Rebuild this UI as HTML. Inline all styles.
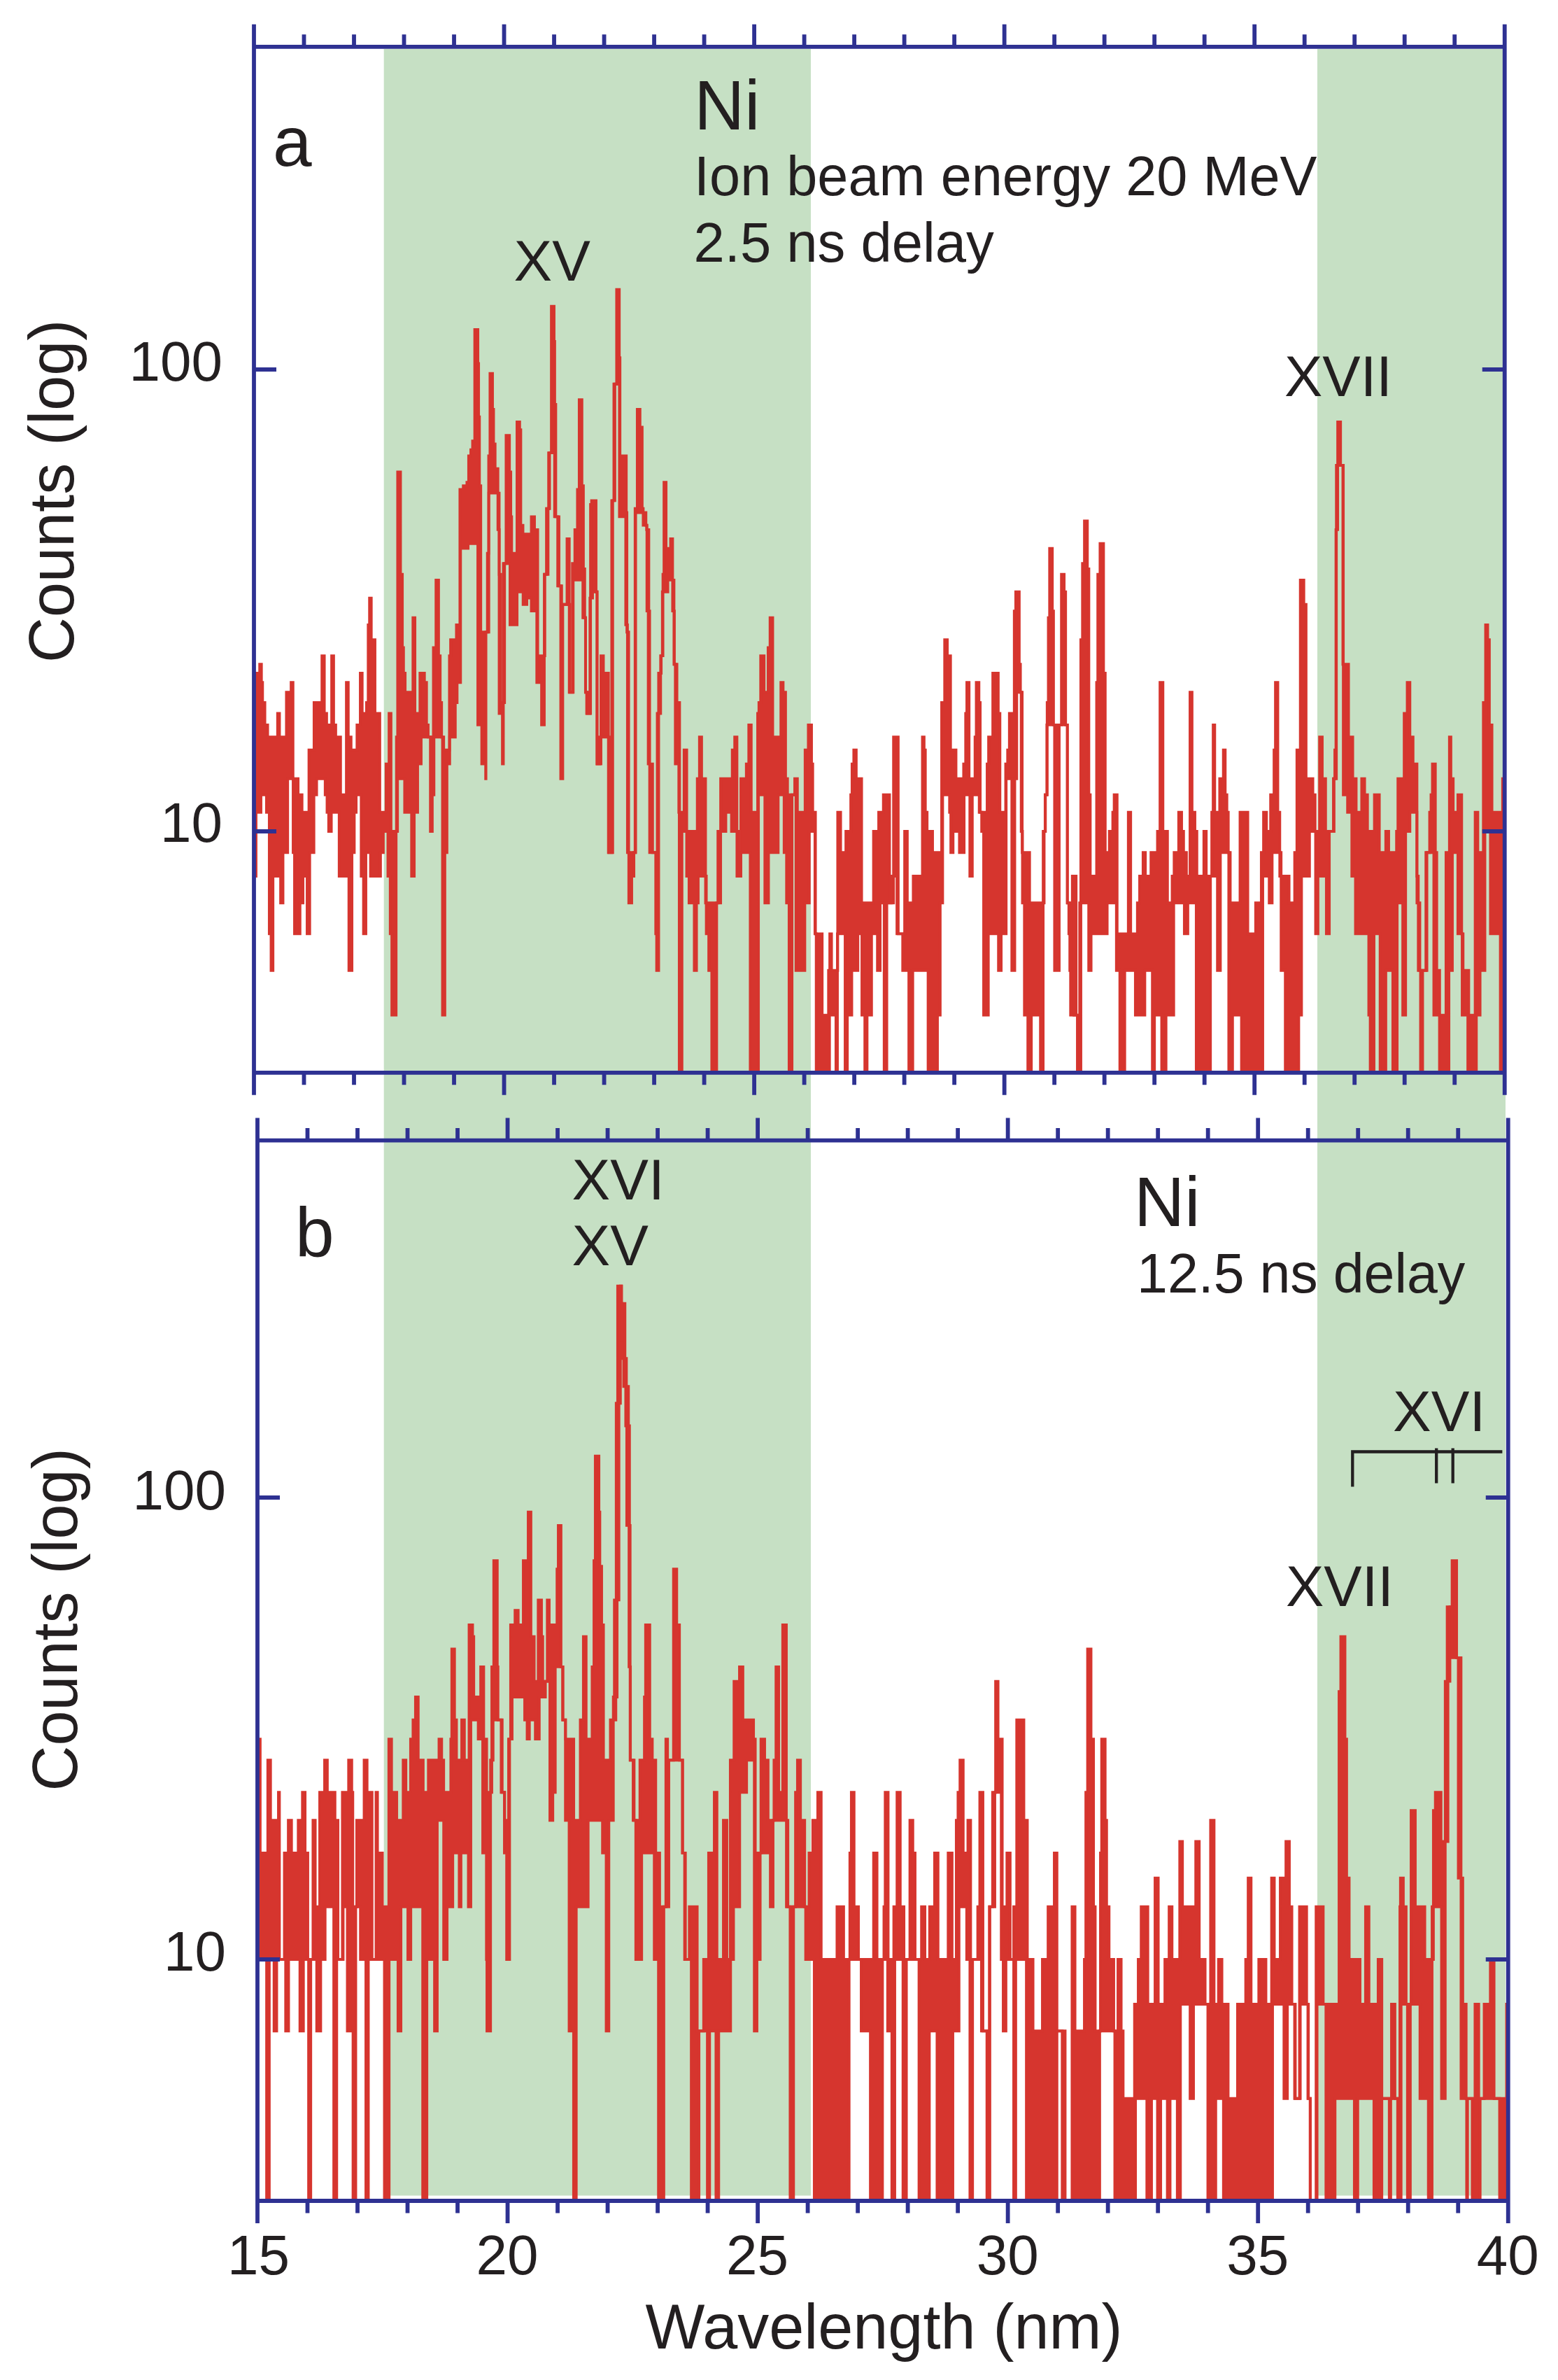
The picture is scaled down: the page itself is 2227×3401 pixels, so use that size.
<!DOCTYPE html>
<html><head><meta charset="utf-8"><title>Ni spectra</title>
<style>html,body{margin:0;padding:0;background:#fff}body{width:2227px;height:3401px;overflow:hidden}</style></head>
<body>
<svg width="2227" height="3401" viewBox="0 0 2227 3401" style="display:block">
<rect x="0" y="0" width="2227" height="3401" fill="#ffffff"/>
<rect x="548.7" y="70" width="610.3" height="3067.5" fill="#c6e0c4"/>
<rect x="1883" y="70" width="269" height="3067.5" fill="#c6e0c4"/>
<clipPath id="clipa"><rect x="363.0" y="66.8" width="1787.75" height="1466.0"/></clipPath>
<g clip-path="url(#clipa)"><path d="M363.0 962.0H371.2V949.3H373.7V975.3H375.3V1004.0H378.6V1035.9H382.6V1053.3H396.8V1019.5H399.5V1053.3H409.4V989.3H416.1V975.3H418.8V1112.8H426.1V1135.7H431.7V1160.7H441.6V1071.8H448.9V1004.0H460.2V937.1H463.6V1019.5H466.9V1035.9H474.1V937.1H476.9V1035.9H479.9V1053.3H486.8V1135.7H495.1V975.3H497.8V1053.3H501.8V1071.8H510.3V1035.9H515.0V962.0H517.7V1019.5H523.9V1004.0H526.3V892.9H528.2V854.6H530.7V914.1H536.0V1019.5H542.9V1160.7H551.8V1091.6H556.1V1019.5H558.9V1188.0H566.7V1053.3H568.4V674.4H572.5V820.8H575.1V925.4H576.8V962.0H579.1V989.3H590.3V882.8H593.1V1019.5H600.3V962.0H606.7V975.3H609.7V1035.9H612.0V1053.3H619.5V925.4H623.2V828.9H626.9V937.1H629.2V1004.0H631.2V1053.3H634.2V1071.8H642.4V937.1H644.1V914.1H652.4V892.9H657.4V699.4H662.2V694.2H667.4V689.1H669.9V651.5H673.0V642.8H675.5V630.2H678.6V471.0H683.1V519.5H684.1V595.6H685.3V694.2H687.2V903.3H696.7V790.6H698.5V651.5H700.4V533.8H704.0V584.9H705.5V634.4H707.7V669.7H711.7V756.9H713.6V820.8H715.8V1004.0H721.2V805.3H723.4V622.2H728.2V674.4H730.1V738.4H731.3V790.6H739.0V602.9H742.8V614.3H744.4V750.6H747.5V763.3H759.5V738.4H764.0V756.9H768.6V937.1H778.8V820.8H783.4V726.7H785.6V647.1H788.1V437.8H792.0V487.9H792.9V578.0H794.4V738.4H797.2V837.2H802.8V863.7H810.5V769.9H813.7V989.3H818.2V805.3H821.7V756.9H825.4V699.4H827.9V571.2H831.8V694.2H833.9V813.0H835.8V882.8H837.0V989.3H838.6V1019.5H844.1V721.0H845.6V715.4H852.0V845.8H853.5V1091.6H859.0V937.1H862.5V962.0H869.7V1218.2H875.8V715.4H878.9V548.8H881.4V413.7H885.2V511.3H886.2V651.5H895.2V732.5H896.1V903.3H898.6V1218.2H907.8V726.7H910.9V584.9H914.8V610.5H917.9V726.7H919.4V750.6H924.7V873.1H926.6V1091.6H932.8V1218.2H939.5V1019.5H941.4V962.0H945.1V937.1H947.6V820.8H949.1V689.1H952.1V783.6H958.5V769.9H961.4V873.1H963.9V949.3H967.6V1004.0H971.4V1160.7H977.8V1071.8H981.6V1188.0H996.7V1112.8H999.8V1053.3H1002.9V1112.8H1008.5V1290.2H1030.1V1112.8H1046.7V1071.8H1050.2V1053.3H1053.4V1252.0H1059.0V1112.8H1066.8V1091.6H1070.3V1035.9H1073.8V1160.7H1083.0V1019.5H1084.8V1004.0H1087.3V937.1H1092.2V989.3H1097.9V925.4H1100.7V882.8H1104.5V1053.3H1116.2V975.3H1119.4V989.3H1122.9V1112.8H1125.7V1135.7H1136.0V1112.8H1139.8V1160.7H1150.8V1071.8H1155.4V1035.9H1160.0V1091.6H1161.7V1160.7H1165.6V1334.4H1175.2V1450.6H1184.3V1386.7H1186.1V1334.4H1188.6V1386.7H1197.4V1160.7H1201.6V1218.2H1209.1V1188.0H1216.1V1135.7H1217.9V1091.6H1220.4V1071.8H1223.9V1112.8H1231.6V1290.2H1248.6V1188.0H1256.0V1160.7H1262.7V1135.7H1271.5V1290.2H1277.2V1053.3H1283.9V1334.4H1293.1V1188.0H1296.9V1290.2H1305.4V1252.0H1318.5V1053.3H1320.9V1071.8H1322.7V1160.7H1325.2V1188.0H1333.0V1218.2H1346.0V1004.0H1350.3V914.1H1354.1V937.1H1358.7V1071.8H1366.5V1112.8H1377.4V1091.6H1380.3V1019.5H1382.0V975.3H1385.2V1112.8H1393.7V1053.3H1395.5V975.3H1399.3V1004.0H1401.1V1160.7H1411.0V1091.6H1413.1V1053.3H1419.1V962.0H1426.9V1019.5H1429.3V1160.7H1437.5V1091.6H1440.3V1071.8H1442.8V1019.5H1449.8V873.1H1451.9V845.8H1456.9V949.3H1458.6V989.3H1461.1V1218.2H1471.7V1290.2H1492.5V1188.0H1494.3V1135.7H1496.8V1004.0H1498.5V882.8H1500.3V783.6H1504.2V873.1H1505.9V1035.9H1517.2V820.8H1521.1V845.8H1523.2V1035.9H1525.7V1290.2H1532.8V1252.0H1535.2V1450.6H1537.8V1252.0H1538.2V1450.6H1543.3V1290.2H1544.9V914.1H1547.3V805.3H1550.1V744.4H1554.3V813.0H1556.4V1135.7H1558.4V1252.0H1567.5V975.3H1569.2V820.8H1572.4V776.7H1577.4V962.0H1579.8V1218.2H1585.7V1188.0H1590.6V1160.7H1592.6V1135.7H1596.8V1334.4H1612.8V1160.7H1616.2V1334.4H1625.8V1290.2H1629.0V1252.0H1633.9V1218.2H1637.2V1252.0H1645.2V1218.2H1654.5V1188.0H1658.1V975.3H1662.3V1188.0H1668.8V1290.2H1675.5V1252.0H1678.3V1218.2H1684.8V1160.7H1689.0V1188.0H1691.8V1218.2H1695.9V1252.0H1701.0V989.3H1703.9V1160.7H1708.0V1188.0H1710.8V1252.0H1720.8V1188.0H1724.2V1252.0H1732.1V1160.7H1734.1V1035.9H1736.3V1160.7H1743.4V1112.8H1748.7V1071.8H1751.3V1135.7H1753.7V1160.7H1755.7V1218.2H1758.5V1290.2H1772.5V1160.7H1783.6V1334.4H1794.8V1290.2H1802.9V1218.2H1806.1V1160.7H1810.3V1188.0H1816.2V1135.7H1821.1V1071.8H1823.1V975.3H1826.5V1160.7H1829.3V1252.0H1842.6V1290.2H1850.6V1218.2H1853.8V1071.8H1858.7V828.9H1863.7V863.7H1866.9V1112.8H1876.6V1135.7H1879.8V1188.0H1886.2V1053.3H1890.0V1112.8H1894.8V1188.0H1906.0V1112.8H1908.0V1071.8H1909.6V756.9H1912.1V602.9H1916.2V665.0H1919.5V949.3H1927.6V1053.3H1933.6V1112.8H1938.5V1160.7H1946.4V1112.8H1950.6V1135.7H1954.7V1188.0H1964.6V1135.7H1971.6V1218.2H1980.8V1188.0H1985.0V1218.2H1996.2V1188.0H1998.2V1112.8H2007.1V1019.5H2011.5V975.3H2015.3V1053.3H2019.8V1091.6H2025.4V1290.2H2029.5V1386.7H2038.2V1218.2H2043.5V1160.7H2045.5V1135.7H2047.5V1091.6H2051.7V1218.2H2053.7V1386.7H2057.8V1450.6H2066.9V1218.2H2071.8V1053.3H2073.9V1112.8H2077.2V1160.7H2083.9V1135.7H2089.3V1334.4H2091.3V1386.7H2099.4V1450.6H2108.6V1160.7H2112.4V1218.2H2120.3V1004.0H2123.5V892.9H2126.5V914.1H2128.9V1035.9H2132.6V1160.7H2147.8V1112.8H2150.8V1546.8H2144.6V1334.4H2130.4V1188.0H2122.5V1386.7H2115.6V1450.6H2110.3V1546.8H2098.1V1450.6H2090.0V1334.4H2083.9V1218.2H2076.0V1386.7H2071.1V1546.8H2057.6V1450.6H2049.5V1218.2H2039.6V1386.7H2033.5V1546.8H2030.5V1386.7H2027.3V1252.0H2025.3V1160.7H2015.3V1188.0H2009.2V1450.6H2005.1V1290.2H1997.1V1546.8H1990.9V1386.7H1980.9V1546.8H1972.7V1334.4H1964.0V1546.8H1958.6V1450.6H1956.5V1334.4H1937.5V1252.0H1932.3V1160.7H1926.2V1135.7H1920.1V665.0H1910.2V1112.8H1906.9V1188.0H1900.1V1334.4H1895.9V1252.0H1883.9V1334.4H1880.5V1188.0H1871.8V1252.0H1860.4V1450.6H1856.4V1546.8H1837.2V1386.7H1831.2V1218.2H1818.4V1290.2H1814.2V1252.0H1805.0V1546.8H1774.6V1450.6H1761.8V1546.8H1756.4V1218.2H1744.4V1386.7H1740.2V1252.0H1730.2V1546.8H1709.9V1290.2H1697.9V1334.4H1692.9V1290.2H1677.7V1450.6H1666.7V1546.8H1660.5V1450.6H1650.2V1546.8H1647.2V1386.7H1636.4V1450.6H1622.9V1386.7H1607.7V1546.8H1600.7V1386.7H1595.8V1290.2H1582.6V1334.4H1559.6V1386.7H1556.2V1290.2H1545.0V1546.8H1540.0V1450.6H1530.3V1386.7H1529.2V1334.4H1527.8V1290.2H1525.7V1035.9H1514.0V1386.7H1507.4V1035.9H1496.4V1135.7H1493.9V1188.0H1491.1V1546.8H1487.2V1450.6H1474.2V1546.8H1469.2V1450.6H1464.3V1290.2H1461.5V1188.0H1459.7V989.3H1453.3V1112.8H1450.5V1386.7H1446.3V1112.8H1438.2V1334.4H1431.1V1386.7H1427.2V1334.4H1412.7V1450.6H1406.0V1188.0H1403.2V1160.7H1399.7V1135.7H1389.8V1252.0H1386.3V1135.7H1378.1V1218.2H1371.4V1188.0H1362.3V1218.2H1359.1V1160.7H1357.3V1135.7H1347.4V1290.2H1343.9V1450.6H1340.0V1546.8H1326.6V1386.7H1304.7V1546.8H1299.1V1386.7H1290.3V1334.4H1282.1V1252.0H1274.0V1290.2H1267.6V1546.8H1263.8V1290.2H1258.1V1386.7H1254.2V1334.4H1245.8V1450.6H1239.4V1546.8H1236.2V1450.6H1232.0V1334.4H1226.3V1386.7H1217.5V1450.6H1211.2V1546.8H1208.0V1334.4H1197.0V1546.8H1194.9V1450.6H1185.7V1546.8H1166.7V1334.4H1164.9V1188.0H1156.8V1290.2H1150.4V1386.7H1137.7V1135.7H1132.1V1546.8H1127.9V1290.2H1124.3V1218.2H1120.8V1135.7H1112.3V1218.2H1098.5V1290.2H1093.3V1135.7H1084.1V1546.8H1072.4V1218.2H1058.7V1252.0H1055.5V1188.0H1045.6V1160.7H1037.5V1188.0H1026.2V1290.2H1024.4V1546.8H1017.4V1386.7H1013.1V1334.4H1009.6V1252.0H998.0V1290.2H995.6V1386.7H992.4V1290.2H984.9V1252.0H981.5V1188.0H974.8V1546.8H970.9V1160.7H970.3V1091.6H965.3V949.3H963.4V828.9H954.6V845.8H946.8V937.1H944.3V1019.5H941.5V1386.7H938.6V1334.4H937.3V1218.2H928.6V873.1H927.4V756.9H924.3V750.6H923.3V732.5H908.6V1218.2H906.1V1252.0H903.0V1290.2H898.8V1218.2H896.9V892.9H894.4V738.4H885.4V548.8H877.5V715.4H874.4V1218.2H870.5V1053.3H857.3V1091.6H853.4V845.8H847.0V854.6H843.3V1019.5H839.4V989.3H836.9V882.8H833.2V828.9H819.3V989.3H814.5V863.7H804.4V1112.8H801.5V837.2H799.0V738.4H792.7V647.1H784.2V726.7H781.1V820.8H778.0V1035.9H774.1V975.3H767.3V873.1H759.5V854.6H753.1V863.7H747.7V845.8H739.1V892.9H729.0V805.3H719.5V1091.6H718.1V1019.5H713.5V704.6H698.7V903.3H694.6V1112.8H694.2V1091.6H688.6V1035.9H683.0V776.7H669.1V783.6H658.3V975.3H653.4V1004.0H650.8V1053.3H642.8V1091.6H638.9V1218.2H635.9V1450.6H632.5V1053.3H620.3V1135.7H617.9V1188.0H615.2V1053.3H602.0V1091.6H597.0V1160.7H592.1V1252.0H588.3V1160.7H578.4V1112.8H568.2V1188.0H566.2V1450.6H560.1V1334.4H557.8V1252.0H554.5V1188.0H547.9V1218.2H543.9V1252.0H529.6V1218.2H523.0V1334.4H519.6V1252.0H516.3V1135.7H509.1V1160.7H506.4V1218.2H503.1V1386.7H498.7V1252.0H484.8V1160.7H473.6V1188.0H469.8V1160.7H467.5V1135.7H464.8V1112.8H452.6V1135.7H448.7V1218.2H442.7V1334.4H439.0V1252.0H433.1V1290.2H428.8V1334.4H421.0V1218.2H419.0V1112.8H411.2V1218.2H404.5V1290.2H401.1V1252.0H390.2V1386.7H387.5V1334.4H384.9V1160.7H380.9V1135.7H373.0V1160.7H366.0V1252.0H363.0Z" fill="#d6352e" stroke="none"/><path d="M363.0 962.0H371.2V949.3H373.7V975.3H375.3V1004.0H378.6V1035.9H382.6V1053.3H396.8V1019.5H399.5V1053.3H409.4V989.3H416.1V975.3H418.8V1112.8H426.1V1135.7H431.7V1160.7H441.6V1071.8H448.9V1004.0H460.2V937.1H463.6V1019.5H466.9V1035.9H474.1V937.1H476.9V1035.9H479.9V1053.3H486.8V1135.7H495.1V975.3H497.8V1053.3H501.8V1071.8H510.3V1035.9H515.0V962.0H517.7V1019.5H523.9V1004.0H526.3V892.9H528.2V854.6H530.7V914.1H536.0V1019.5H542.9V1160.7H551.8V1091.6H556.1V1019.5H558.9V1188.0H566.7V1053.3H568.4V674.4H572.5V820.8H575.1V925.4H576.8V962.0H579.1V989.3H590.3V882.8H593.1V1019.5H600.3V962.0H606.7V975.3H609.7V1035.9H612.0V1053.3H619.5V925.4H623.2V828.9H626.9V937.1H629.2V1004.0H631.2V1053.3H634.2V1071.8H642.4V937.1H644.1V914.1H652.4V892.9H657.4V699.4H662.2V694.2H667.4V689.1H669.9V651.5H673.0V642.8H675.5V630.2H678.6V471.0H683.1V519.5H684.1V595.6H685.3V694.2H687.2V903.3H696.7V790.6H698.5V651.5H700.4V533.8H704.0V584.9H705.5V634.4H707.7V669.7H711.7V756.9H713.6V820.8H715.8V1004.0H721.2V805.3H723.4V622.2H728.2V674.4H730.1V738.4H731.3V790.6H739.0V602.9H742.8V614.3H744.4V750.6H747.5V763.3H759.5V738.4H764.0V756.9H768.6V937.1H778.8V820.8H783.4V726.7H785.6V647.1H788.1V437.8H792.0V487.9H792.9V578.0H794.4V738.4H797.2V837.2H802.8V863.7H810.5V769.9H813.7V989.3H818.2V805.3H821.7V756.9H825.4V699.4H827.9V571.2H831.8V694.2H833.9V813.0H835.8V882.8H837.0V989.3H838.6V1019.5H844.1V721.0H845.6V715.4H852.0V845.8H853.5V1091.6H859.0V937.1H862.5V962.0H869.7V1218.2H875.8V715.4H878.9V548.8H881.4V413.7H885.2V511.3H886.2V651.5H895.2V732.5H896.1V903.3H898.6V1218.2H907.8V726.7H910.9V584.9H914.8V610.5H917.9V726.7H919.4V750.6H924.7V873.1H926.6V1091.6H932.8V1218.2H939.5V1019.5H941.4V962.0H945.1V937.1H947.6V820.8H949.1V689.1H952.1V783.6H958.5V769.9H961.4V873.1H963.9V949.3H967.6V1004.0H971.4V1160.7H977.8V1071.8H981.6V1188.0H996.7V1112.8H999.8V1053.3H1002.9V1112.8H1008.5V1290.2H1030.1V1112.8H1046.7V1071.8H1050.2V1053.3H1053.4V1252.0H1059.0V1112.8H1066.8V1091.6H1070.3V1035.9H1073.8V1160.7H1083.0V1019.5H1084.8V1004.0H1087.3V937.1H1092.2V989.3H1097.9V925.4H1100.7V882.8H1104.5V1053.3H1116.2V975.3H1119.4V989.3H1122.9V1112.8H1125.7V1135.7H1136.0V1112.8H1139.8V1160.7H1150.8V1071.8H1155.4V1035.9H1160.0V1091.6H1161.7V1160.7H1165.6V1334.4H1175.2V1450.6H1184.3V1386.7H1186.1V1334.4H1188.6V1386.7H1197.4V1160.7H1201.6V1218.2H1209.1V1188.0H1216.1V1135.7H1217.9V1091.6H1220.4V1071.8H1223.9V1112.8H1231.6V1290.2H1248.6V1188.0H1256.0V1160.7H1262.7V1135.7H1271.5V1290.2H1277.2V1053.3H1283.9V1334.4H1293.1V1188.0H1296.9V1290.2H1305.4V1252.0H1318.5V1053.3H1320.9V1071.8H1322.7V1160.7H1325.2V1188.0H1333.0V1218.2H1346.0V1004.0H1350.3V914.1H1354.1V937.1H1358.7V1071.8H1366.5V1112.8H1377.4V1091.6H1380.3V1019.5H1382.0V975.3H1385.2V1112.8H1393.7V1053.3H1395.5V975.3H1399.3V1004.0H1401.1V1160.7H1411.0V1091.6H1413.1V1053.3H1419.1V962.0H1426.9V1019.5H1429.3V1160.7H1437.5V1091.6H1440.3V1071.8H1442.8V1019.5H1449.8V873.1H1451.9V845.8H1456.9V949.3H1458.6V989.3H1461.1V1218.2H1471.7V1290.2H1492.5V1188.0H1494.3V1135.7H1496.8V1004.0H1498.5V882.8H1500.3V783.6H1504.2V873.1H1505.9V1035.9H1517.2V820.8H1521.1V845.8H1523.2V1035.9H1525.7V1290.2H1532.8V1252.0H1535.2V1450.6H1537.8V1252.0H1538.2V1450.6H1543.3V1290.2H1544.9V914.1H1547.3V805.3H1550.1V744.4H1554.3V813.0H1556.4V1135.7H1558.4V1252.0H1567.5V975.3H1569.2V820.8H1572.4V776.7H1577.4V962.0H1579.8V1218.2H1585.7V1188.0H1590.6V1160.7H1592.6V1135.7H1596.8V1334.4H1612.8V1160.7H1616.2V1334.4H1625.8V1290.2H1629.0V1252.0H1633.9V1218.2H1637.2V1252.0H1645.2V1218.2H1654.5V1188.0H1658.1V975.3H1662.3V1188.0H1668.8V1290.2H1675.5V1252.0H1678.3V1218.2H1684.8V1160.7H1689.0V1188.0H1691.8V1218.2H1695.9V1252.0H1701.0V989.3H1703.9V1160.7H1708.0V1188.0H1710.8V1252.0H1720.8V1188.0H1724.2V1252.0H1732.1V1160.7H1734.1V1035.9H1736.3V1160.7H1743.4V1112.8H1748.7V1071.8H1751.3V1135.7H1753.7V1160.7H1755.7V1218.2H1758.5V1290.2H1772.5V1160.7H1783.6V1334.4H1794.8V1290.2H1802.9V1218.2H1806.1V1160.7H1810.3V1188.0H1816.2V1135.7H1821.1V1071.8H1823.1V975.3H1826.5V1160.7H1829.3V1252.0H1842.6V1290.2H1850.6V1218.2H1853.8V1071.8H1858.7V828.9H1863.7V863.7H1866.9V1112.8H1876.6V1135.7H1879.8V1188.0H1886.2V1053.3H1890.0V1112.8H1894.8V1188.0H1906.0V1112.8H1908.0V1071.8H1909.6V756.9H1912.1V602.9H1916.2V665.0H1919.5V949.3H1927.6V1053.3H1933.6V1112.8H1938.5V1160.7H1946.4V1112.8H1950.6V1135.7H1954.7V1188.0H1964.6V1135.7H1971.6V1218.2H1980.8V1188.0H1985.0V1218.2H1996.2V1188.0H1998.2V1112.8H2007.1V1019.5H2011.5V975.3H2015.3V1053.3H2019.8V1091.6H2025.4V1290.2H2029.5V1386.7H2038.2V1218.2H2043.5V1160.7H2045.5V1135.7H2047.5V1091.6H2051.7V1218.2H2053.7V1386.7H2057.8V1450.6H2066.9V1218.2H2071.8V1053.3H2073.9V1112.8H2077.2V1160.7H2083.9V1135.7H2089.3V1334.4H2091.3V1386.7H2099.4V1450.6H2108.6V1160.7H2112.4V1218.2H2120.3V1004.0H2123.5V892.9H2126.5V914.1H2128.9V1035.9H2132.6V1160.7H2147.8V1112.8H2150.8" fill="none" stroke="#d6352e" stroke-width="3.9" stroke-linejoin="miter"/><path d="M363.0 1252.0H366.0V1160.7H373.0V1135.7H380.9V1160.7H384.9V1334.4H387.5V1386.7H390.2V1252.0H401.1V1290.2H404.5V1218.2H411.2V1112.8H419.0V1218.2H421.0V1334.4H428.8V1290.2H433.1V1252.0H439.0V1334.4H442.7V1218.2H448.7V1135.7H452.6V1112.8H464.8V1135.7H467.5V1160.7H469.8V1188.0H473.6V1160.7H484.8V1252.0H498.7V1386.7H503.1V1218.2H506.4V1160.7H509.1V1135.7H516.3V1252.0H519.6V1334.4H523.0V1218.2H529.6V1252.0H543.9V1218.2H547.9V1188.0H554.5V1252.0H557.8V1334.4H560.1V1450.6H566.2V1188.0H568.2V1112.8H578.4V1160.7H588.3V1252.0H592.1V1160.7H597.0V1091.6H602.0V1053.3H615.2V1188.0H617.9V1135.7H620.3V1053.3H632.5V1450.6H635.9V1218.2H638.9V1091.6H642.8V1053.3H650.8V1004.0H653.4V975.3H658.3V783.6H669.1V776.7H683.0V1035.9H688.6V1091.6H694.2V1112.8H694.6V903.3H698.7V704.6H713.5V1019.5H718.1V1091.6H719.5V805.3H729.0V892.9H739.1V845.8H747.7V863.7H753.1V854.6H759.5V873.1H767.3V975.3H774.1V1035.9H778.0V820.8H781.1V726.7H784.2V647.1H792.7V738.4H799.0V837.2H801.5V1112.8H804.4V863.7H814.5V989.3H819.3V828.9H833.2V882.8H836.9V989.3H839.4V1019.5H843.3V854.6H847.0V845.8H853.4V1091.6H857.3V1053.3H870.5V1218.2H874.4V715.4H877.5V548.8H885.4V738.4H894.4V892.9H896.9V1218.2H898.8V1290.2H903.0V1252.0H906.1V1218.2H908.6V732.5H923.3V750.6H924.3V756.9H927.4V873.1H928.6V1218.2H937.3V1334.4H938.6V1386.7H941.5V1019.5H944.3V937.1H946.8V845.8H954.6V828.9H963.4V949.3H965.3V1091.6H970.3V1160.7H970.9V1546.8H974.8V1188.0H981.5V1252.0H984.9V1290.2H992.4V1386.7H995.6V1290.2H998.0V1252.0H1009.6V1334.4H1013.1V1386.7H1017.4V1546.8H1024.4V1290.2H1026.2V1188.0H1037.5V1160.7H1045.6V1188.0H1055.5V1252.0H1058.7V1218.2H1072.4V1546.8H1084.1V1135.7H1093.3V1290.2H1098.5V1218.2H1112.3V1135.7H1120.8V1218.2H1124.3V1290.2H1127.9V1546.8H1132.1V1135.7H1137.7V1386.7H1150.4V1290.2H1156.8V1188.0H1164.9V1334.4H1166.7V1546.8H1185.7V1450.6H1194.9V1546.8H1197.0V1334.4H1208.0V1546.8H1211.2V1450.6H1217.5V1386.7H1226.3V1334.4H1232.0V1450.6H1236.2V1546.8H1239.4V1450.6H1245.8V1334.4H1254.2V1386.7H1258.1V1290.2H1263.8V1546.8H1267.6V1290.2H1274.0V1252.0H1282.1V1334.4H1290.3V1386.7H1299.1V1546.8H1304.7V1386.7H1326.6V1546.8H1340.0V1450.6H1343.9V1290.2H1347.4V1135.7H1357.3V1160.7H1359.1V1218.2H1362.3V1188.0H1371.4V1218.2H1378.1V1135.7H1386.3V1252.0H1389.8V1135.7H1399.7V1160.7H1403.2V1188.0H1406.0V1450.6H1412.7V1334.4H1427.2V1386.7H1431.1V1334.4H1438.2V1112.8H1446.3V1386.7H1450.5V1112.8H1453.3V989.3H1459.7V1188.0H1461.5V1290.2H1464.3V1450.6H1469.2V1546.8H1474.2V1450.6H1487.2V1546.8H1491.1V1188.0H1493.9V1135.7H1496.4V1035.9H1507.4V1386.7H1514.0V1035.9H1525.7V1290.2H1527.8V1334.4H1529.2V1386.7H1530.3V1450.6H1540.0V1546.8H1545.0V1290.2H1556.2V1386.7H1559.6V1334.4H1582.6V1290.2H1595.8V1386.7H1600.7V1546.8H1607.7V1386.7H1622.9V1450.6H1636.4V1386.7H1647.2V1546.8H1650.2V1450.6H1660.5V1546.8H1666.7V1450.6H1677.7V1290.2H1692.9V1334.4H1697.9V1290.2H1709.9V1546.8H1730.2V1252.0H1740.2V1386.7H1744.4V1218.2H1756.4V1546.8H1761.8V1450.6H1774.6V1546.8H1805.0V1252.0H1814.2V1290.2H1818.4V1218.2H1831.2V1386.7H1837.2V1546.8H1856.4V1450.6H1860.4V1252.0H1871.8V1188.0H1880.5V1334.4H1883.9V1252.0H1895.9V1334.4H1900.1V1188.0H1906.9V1112.8H1910.2V665.0H1920.1V1135.7H1926.2V1160.7H1932.3V1252.0H1937.5V1334.4H1956.5V1450.6H1958.6V1546.8H1964.0V1334.4H1972.7V1546.8H1980.9V1386.7H1990.9V1546.8H1997.1V1290.2H2005.1V1450.6H2009.2V1188.0H2015.3V1160.7H2025.3V1252.0H2027.3V1386.7H2030.5V1546.8H2033.5V1386.7H2039.6V1218.2H2049.5V1450.6H2057.6V1546.8H2071.1V1386.7H2076.0V1218.2H2083.9V1334.4H2090.0V1450.6H2098.1V1546.8H2110.3V1450.6H2115.6V1386.7H2122.5V1188.0H2130.4V1334.4H2144.6V1546.8H2150.8" fill="none" stroke="#d6352e" stroke-width="3.9" stroke-linejoin="miter"/></g>
<clipPath id="clipb"><rect x="368.0" y="1629.6" width="1787.75" height="1515.4"/></clipPath>
<g clip-path="url(#clipb)"><path d="M368.0 2485.1H371.9V2647.9H382.8V2515.3H386.7V2601.3H398.0V2561.3H399.4V2800.0H406.5V2647.9H412.1V2601.3H416.7V2647.9H426.3V2601.3H432.3V2561.3H436.1V2647.9H440.0V2800.0H447.4V2601.3H450.6V2724.8H457.0V2561.3H464.0V2515.3H467.9V2561.3H478.8V2601.3H483.1V2800.0H489.4V2561.3H498.3V2515.3H502.8V2561.3H504.3V2724.8H509.9V2601.3H520.5V2515.3H524.7V2561.3H531.8V2800.0H537.5V2561.3H539.6V2647.9H546.6V2724.8H555.8V2485.1H559.7V2561.3H567.1V2601.3H576.3V2515.3H580.2V2561.3H586.9V2485.1H590.4V2457.8H593.9V2425.0H597.8V2515.3H604.9V2561.3H612.3V2515.3H627.5V2485.1H631.3V2515.3H634.2V2561.3H644.4V2485.1H645.8V2356.4H649.7V2457.8H652.5V2515.3H660.0V2457.8H663.8V2515.3H670.5V2322.0H675.5V2338.7H677.2V2425.0H687.1V2381.9H691.4V2485.1H695.6V2561.3H703.0V2381.9H705.8V2230.2H710.8V2381.9H711.8V2457.8H717.8V2561.3H721.4V2601.3H727.0V2485.1H729.9V2322.0H736.2V2301.1H740.7V2322.0H748.0V2230.2H755.0V2160.8H758.9V2338.7H763.6V2402.6H769.3V2286.4H774.0V2338.7H775.8V2402.6H782.3V2286.4H785.0V2322.0H796.2V2242.2H798.0V2179.9H801.9V2381.9H804.2V2457.8H808.4V2485.1H820.1V2601.3H829.5V2457.8H833.9V2338.7H837.8V2485.1H846.4V2381.9H849.0V2230.2H850.9V2080.7H856.1V2160.8H857.4V2238.2H860.0V2322.0H862.6V2515.3H872.5V2457.8H880.3V2425.0H882.1V2286.4H884.7V2005.3H886.8V1837.8H888.1V1862.8H889.4V1941.3H891.5V1981.2H894.4V2037.5H895.9V2179.9H899.1V2381.9H901.1V2515.3H905.0V2601.3H914.7V2515.3H921.1V2425.0H922.8V2322.0H928.8V2485.1H932.4V2515.3H937.3V2647.9H942.9V2724.8H951.8V2485.1H954.2V2515.3H962.7V2242.2H967.3V2322.0H971.2V2515.3H975.4V2647.9H979.7V2800.0H985.3V2724.8H996.6V2902.2H1005.8V2800.0H1012.9V2647.9H1021.0V2561.3H1024.8V2800.0H1034.0V2601.3H1039.0V2800.0H1043.9V2515.3H1049.2V2402.6H1057.0V2381.9H1061.9V2457.8H1077.1V2485.1H1079.6V2647.9H1087.7V2485.1H1093.0V2515.3H1097.9V2601.3H1106.4V2515.3H1109.2V2381.9H1113.1V2561.3H1118.8V2322.0H1124.0V2601.3H1126.2V2724.8H1137.1V2561.3H1139.9V2515.3H1144.2V2601.3H1150.2V2724.8H1156.5V2647.9H1161.8V2601.3H1168.9V2561.3H1173.8V2800.0H1196.4V2724.8H1205.9V2800.0H1214.8V2647.9H1216.9V2561.3H1220.8V2724.8H1227.1V2800.0H1248.7V2647.9H1253.6V2800.0H1263.5V2724.8H1265.3V2561.3H1269.5V2800.0H1277.6V2724.8H1282.2V2561.3H1286.8V2724.8H1292.1V2800.0H1300.6V2601.3H1304.8V2647.9H1308.0V2800.0H1317.2V2724.8H1322.1V2800.0H1328.8V2724.8H1335.9V2647.9H1340.8V2800.0H1355.3V2647.9H1360.9V2800.0H1366.9V2601.3H1369.4V2561.3H1372.2V2515.3H1376.8V2647.9H1383.5V2601.3H1387.4V2800.0H1397.6V2724.8H1400.5V2561.3H1405.0V2902.2H1414.2V2724.8H1418.8V2561.3H1423.1V2402.6H1426.6V2485.1H1432.6V2724.8H1439.3V2647.9H1443.9V2800.0H1449.0V2724.8H1453.3V2457.8H1463.5V2601.3H1468.5V2800.0H1476.6V2902.2H1490.0V2800.0H1498.1V2724.8H1507.0V2647.9H1510.8V2902.2H1522.5V3145.1H1532.4V2724.8H1536.6V2902.2H1550.0V2800.0H1552.1V2561.3H1554.6V2356.4H1559.5V2485.1H1563.1V2724.8H1565.5V2902.2H1573.0V2647.9H1574.7V2485.1H1579.7V2601.3H1581.8V2724.8H1585.3V2800.0H1592.0V2902.2H1598.0V2800.0H1602.6V2902.2H1605.4V2998.7H1621.7V2864.0H1627.0V2800.0H1631.2V2724.8H1640.7V2864.0H1651.0V2683.8H1655.6V2864.0H1665.1V2800.0H1671.1V2724.8H1675.3V2800.0H1686.3V2631.5H1690.2V2724.8H1709.2V2631.5H1714.2V2800.0H1722.6V2864.0H1730.4V2601.3H1735.4V2864.0H1741.7V2800.0H1746.6V2864.0H1755.5V2998.7H1768.9V2864.0H1780.6V2800.0H1784.1V2683.8H1788.3V2864.0H1799.3V2800.0H1809.5V2864.0H1817.6V2683.8H1821.5V2800.0H1830.0V2683.8H1838.1V2631.5H1843.0V2724.8H1846.6V2864.0H1851.5V2998.7H1857.5V2724.8H1867.7V2864.0H1870.2V2998.7H1872.7V3145.1H1881.2V2724.8H1891.4V2864.0H1914.0V2417.3H1916.5V2338.7H1922.5V2485.1H1924.9V2683.8H1928.5V2800.0H1944.0V2864.0H1951.9V2724.8H1956.8V2864.0H1969.9V2800.0H1975.2V2998.7H1989.0V2864.0H1993.9V2998.7H2001.0V2724.8H2001.8V2683.8H2005.9V2724.8H2009.9V2864.0H2017.0V2587.3H2023.0V2724.8H2036.6V2800.0H2048.9V2587.3H2051.7V2561.3H2059.8V2631.5H2069.7V2402.6H2072.5V2296.1H2075.6V2230.2H2082.1V2368.9H2084.5V2683.8H2090.9V2864.0H2095.7V2998.7H2108.4V2864.0H2113.7V2998.7H2121.5V2864.0H2130.3V2800.0H2135.6V2998.7H2153.5V2864.0H2155.8V3159.0H2143.5V2998.7H2115.7V3159.0H2104.4V2998.7H2097.7V3159.0H2096.4V2998.7H2088.4V2368.9H2075.6V2296.1H2068.6V2402.6H2065.8V2998.7H2060.5V2724.8H2047.0V3159.0H2041.7V2998.7H2029.7V2864.0H2015.9V3159.0H2011.8V2864.0H2002.7V3159.0H1997.8V2998.7H1987.9V3159.0H1985.8V2998.7H1975.2V3159.0H1963.9V2998.7H1940.8V3159.0H1935.9V2998.7H1908.3V3159.0H1895.3V2864.0H1882.6V3159.0H1873.0V2998.7H1869.5V2864.0H1858.6V2998.7H1850.5V2864.0H1840.2V2998.7H1835.3V2864.0H1819.0V3159.0H1748.8V2998.7H1737.8V3159.0H1726.5V2864.0H1706.0V2998.7H1701.1V2864.0H1687.3V3159.0H1682.8V2998.7H1672.5V3159.0H1668.6V2998.7H1659.1V3159.0H1654.5V2998.7H1646.0V3159.0H1639.3V2998.7H1623.1V3159.0H1593.5V2902.2H1571.9V3159.0H1518.3V2902.2H1510.8V3159.0H1467.1V2800.0H1451.9V3159.0H1449.0V2800.0H1437.9V2902.2H1434.0V2800.0H1431.2V2561.3H1422.0V2724.8H1414.9V3159.0H1410.7V2902.2H1402.9V2800.0H1390.2V3159.0H1386.4V2800.0H1381.8V2724.8H1370.8V2902.2H1362.0V3159.0H1339.4V2902.2H1328.4V3159.0H1313.6V2800.0H1295.6V3159.0H1290.7V2800.0H1279.0V3159.0H1274.8V2902.2H1268.8V2800.0H1261.4V3159.0H1244.1V2902.2H1231.0V2800.0H1213.7V3159.0H1163.9V2800.0H1151.6V2724.8H1134.3V3159.0H1129.4V2724.8H1124.1V2601.3H1105.0V2724.8H1101.1V2647.9H1086.6V2800.0H1082.0V2902.2H1078.2V2515.3H1067.2V2561.3H1057.3V2724.8H1048.5V2800.0H1044.3V2902.2H1027.3V3159.0H1023.4V2902.2H1014.3V3159.0H1011.1V2902.2H999.1V3159.0H988.1V2800.0H978.6V2647.9H975.8V2515.3H956.0V2724.8H948.9V3159.0H941.2V2800.0H935.2V2647.9H917.2V2800.0H908.8V2601.3H906.4V2515.3H900.7V2179.9H899.8V2037.5H898.3V1981.2H895.4V1941.3H893.3V1862.8H888.9V1915.3H888.5V1837.8H882.9V2005.3H880.8V2286.4H878.2V2425.0H876.7V2601.3H870.3V2902.2H866.5V2647.9H861.2V2601.3H840.7V2724.8H823.7V3159.0H819.9V2902.2H813.5V2601.3H808.2V2457.8H804.7V2381.9H793.7V2561.3H790.2V2601.3H786.0V2402.6H779.6V2425.0H770.8V2485.1H765.2V2457.8H756.7V2485.1H753.5V2457.8H750.0V2425.0H732.0V2485.1H728.4V2800.0H724.2V2647.9H721.0V2561.3H716.4V2457.8H704.8V2515.3H701.2V2902.2H696.0V2800.0H695.3V2647.9H690.0V2485.1H683.6V2457.8H673.0V2724.8H669.5V2647.9H658.9V2724.8H656.4V2647.9H647.2V2724.8H639.1V2800.0H634.2V2601.3H625.0V2902.2H621.1V2800.0H610.2V3159.0H604.2V2724.8H587.2V2800.0H583.0V2724.8H573.1V2902.2H568.9V2800.0H556.2V3159.0H549.5V2800.0H526.5V3159.0H523.0V2800.0H515.2V2724.8H508.5V3159.0H504.6V2902.2H496.5V2724.8H490.5V2800.0H481.3V3159.0H477.1V2724.8H464.7V2800.0H458.4V2902.2H452.7V2800.0H444.2V3159.0H441.1V2800.0H433.7V2902.2H428.7V2800.0H412.5V2902.2H408.3V2800.0H395.5V2902.2H391.7V2800.0H384.9V3159.0H381.1V2800.0H368.0Z" fill="#d6352e" stroke="none"/><path d="M368.0 2485.1H371.9V2647.9H382.8V2515.3H386.7V2601.3H398.0V2561.3H399.4V2800.0H406.5V2647.9H412.1V2601.3H416.7V2647.9H426.3V2601.3H432.3V2561.3H436.1V2647.9H440.0V2800.0H447.4V2601.3H450.6V2724.8H457.0V2561.3H464.0V2515.3H467.9V2561.3H478.8V2601.3H483.1V2800.0H489.4V2561.3H498.3V2515.3H502.8V2561.3H504.3V2724.8H509.9V2601.3H520.5V2515.3H524.7V2561.3H531.8V2800.0H537.5V2561.3H539.6V2647.9H546.6V2724.8H555.8V2485.1H559.7V2561.3H567.1V2601.3H576.3V2515.3H580.2V2561.3H586.9V2485.1H590.4V2457.8H593.9V2425.0H597.8V2515.3H604.9V2561.3H612.3V2515.3H627.5V2485.1H631.3V2515.3H634.2V2561.3H644.4V2485.1H645.8V2356.4H649.7V2457.8H652.5V2515.3H660.0V2457.8H663.8V2515.3H670.5V2322.0H675.5V2338.7H677.2V2425.0H687.1V2381.9H691.4V2485.1H695.6V2561.3H703.0V2381.9H705.8V2230.2H710.8V2381.9H711.8V2457.8H717.8V2561.3H721.4V2601.3H727.0V2485.1H729.9V2322.0H736.2V2301.1H740.7V2322.0H748.0V2230.2H755.0V2160.8H758.9V2338.7H763.6V2402.6H769.3V2286.4H774.0V2338.7H775.8V2402.6H782.3V2286.4H785.0V2322.0H796.2V2242.2H798.0V2179.9H801.9V2381.9H804.2V2457.8H808.4V2485.1H820.1V2601.3H829.5V2457.8H833.9V2338.7H837.8V2485.1H846.4V2381.9H849.0V2230.2H850.9V2080.7H856.1V2160.8H857.4V2238.2H860.0V2322.0H862.6V2515.3H872.5V2457.8H880.3V2425.0H882.1V2286.4H884.7V2005.3H886.8V1837.8H888.1V1862.8H889.4V1941.3H891.5V1981.2H894.4V2037.5H895.9V2179.9H899.1V2381.9H901.1V2515.3H905.0V2601.3H914.7V2515.3H921.1V2425.0H922.8V2322.0H928.8V2485.1H932.4V2515.3H937.3V2647.9H942.9V2724.8H951.8V2485.1H954.2V2515.3H962.7V2242.2H967.3V2322.0H971.2V2515.3H975.4V2647.9H979.7V2800.0H985.3V2724.8H996.6V2902.2H1005.8V2800.0H1012.9V2647.9H1021.0V2561.3H1024.8V2800.0H1034.0V2601.3H1039.0V2800.0H1043.9V2515.3H1049.2V2402.6H1057.0V2381.9H1061.9V2457.8H1077.1V2485.1H1079.6V2647.9H1087.7V2485.1H1093.0V2515.3H1097.9V2601.3H1106.4V2515.3H1109.2V2381.9H1113.1V2561.3H1118.8V2322.0H1124.0V2601.3H1126.2V2724.8H1137.1V2561.3H1139.9V2515.3H1144.2V2601.3H1150.2V2724.8H1156.5V2647.9H1161.8V2601.3H1168.9V2561.3H1173.8V2800.0H1196.4V2724.8H1205.9V2800.0H1214.8V2647.9H1216.9V2561.3H1220.8V2724.8H1227.1V2800.0H1248.7V2647.9H1253.6V2800.0H1263.5V2724.8H1265.3V2561.3H1269.5V2800.0H1277.6V2724.8H1282.2V2561.3H1286.8V2724.8H1292.1V2800.0H1300.6V2601.3H1304.8V2647.9H1308.0V2800.0H1317.2V2724.8H1322.1V2800.0H1328.8V2724.8H1335.9V2647.9H1340.8V2800.0H1355.3V2647.9H1360.9V2800.0H1366.9V2601.3H1369.4V2561.3H1372.2V2515.3H1376.8V2647.9H1383.5V2601.3H1387.4V2800.0H1397.6V2724.8H1400.5V2561.3H1405.0V2902.2H1414.2V2724.8H1418.8V2561.3H1423.1V2402.6H1426.6V2485.1H1432.6V2724.8H1439.3V2647.9H1443.9V2800.0H1449.0V2724.8H1453.3V2457.8H1463.5V2601.3H1468.5V2800.0H1476.6V2902.2H1490.0V2800.0H1498.1V2724.8H1507.0V2647.9H1510.8V2902.2H1522.5V3145.1H1532.4V2724.8H1536.6V2902.2H1550.0V2800.0H1552.1V2561.3H1554.6V2356.4H1559.5V2485.1H1563.1V2724.8H1565.5V2902.2H1573.0V2647.9H1574.7V2485.1H1579.7V2601.3H1581.8V2724.8H1585.3V2800.0H1592.0V2902.2H1598.0V2800.0H1602.6V2902.2H1605.4V2998.7H1621.7V2864.0H1627.0V2800.0H1631.2V2724.8H1640.7V2864.0H1651.0V2683.8H1655.6V2864.0H1665.1V2800.0H1671.1V2724.8H1675.3V2800.0H1686.3V2631.5H1690.2V2724.8H1709.2V2631.5H1714.2V2800.0H1722.6V2864.0H1730.4V2601.3H1735.4V2864.0H1741.7V2800.0H1746.6V2864.0H1755.5V2998.7H1768.9V2864.0H1780.6V2800.0H1784.1V2683.8H1788.3V2864.0H1799.3V2800.0H1809.5V2864.0H1817.6V2683.8H1821.5V2800.0H1830.0V2683.8H1838.1V2631.5H1843.0V2724.8H1846.6V2864.0H1851.5V2998.7H1857.5V2724.8H1867.7V2864.0H1870.2V2998.7H1872.7V3145.1H1881.2V2724.8H1891.4V2864.0H1914.0V2417.3H1916.5V2338.7H1922.5V2485.1H1924.9V2683.8H1928.5V2800.0H1944.0V2864.0H1951.9V2724.8H1956.8V2864.0H1969.9V2800.0H1975.2V2998.7H1989.0V2864.0H1993.9V2998.7H2001.0V2724.8H2001.8V2683.8H2005.9V2724.8H2009.9V2864.0H2017.0V2587.3H2023.0V2724.8H2036.6V2800.0H2048.9V2587.3H2051.7V2561.3H2059.8V2631.5H2069.7V2402.6H2072.5V2296.1H2075.6V2230.2H2082.1V2368.9H2084.5V2683.8H2090.9V2864.0H2095.7V2998.7H2108.4V2864.0H2113.7V2998.7H2121.5V2864.0H2130.3V2800.0H2135.6V2998.7H2153.5V2864.0H2155.8" fill="none" stroke="#d6352e" stroke-width="3.9" stroke-linejoin="miter"/><path d="M368.0 2800.0H381.1V3159.0H384.9V2800.0H391.7V2902.2H395.5V2800.0H408.3V2902.2H412.5V2800.0H428.7V2902.2H433.7V2800.0H441.1V3159.0H444.2V2800.0H452.7V2902.2H458.4V2800.0H464.7V2724.8H477.1V3159.0H481.3V2800.0H490.5V2724.8H496.5V2902.2H504.6V3159.0H508.5V2724.8H515.2V2800.0H523.0V3159.0H526.5V2800.0H549.5V3159.0H556.2V2800.0H568.9V2902.2H573.1V2724.8H583.0V2800.0H587.2V2724.8H604.2V3159.0H610.2V2800.0H621.1V2902.2H625.0V2601.3H634.2V2800.0H639.1V2724.8H647.2V2647.9H656.4V2724.8H658.9V2647.9H669.5V2724.8H673.0V2457.8H683.6V2485.1H690.0V2647.9H695.3V2800.0H696.0V2902.2H701.2V2515.3H704.8V2457.8H716.4V2561.3H721.0V2647.9H724.2V2800.0H728.4V2485.1H732.0V2425.0H750.0V2457.8H753.5V2485.1H756.7V2457.8H765.2V2485.1H770.8V2425.0H779.6V2402.6H786.0V2601.3H790.2V2561.3H793.7V2381.9H804.7V2457.8H808.2V2601.3H813.5V2902.2H819.9V3159.0H823.7V2724.8H840.7V2601.3H861.2V2647.9H866.5V2902.2H870.3V2601.3H876.7V2425.0H878.2V2286.4H880.8V2005.3H882.9V1837.8H888.5V1915.3H888.9V1862.8H893.3V1941.3H895.4V1981.2H898.3V2037.5H899.8V2179.9H900.7V2515.3H906.4V2601.3H908.8V2800.0H917.2V2647.9H935.2V2800.0H941.2V3159.0H948.9V2724.8H956.0V2515.3H975.8V2647.9H978.6V2800.0H988.1V3159.0H999.1V2902.2H1011.1V3159.0H1014.3V2902.2H1023.4V3159.0H1027.3V2902.2H1044.3V2800.0H1048.5V2724.8H1057.3V2561.3H1067.2V2515.3H1078.2V2902.2H1082.0V2800.0H1086.6V2647.9H1101.1V2724.8H1105.0V2601.3H1124.1V2724.8H1129.4V3159.0H1134.3V2724.8H1151.6V2800.0H1163.9V3159.0H1213.7V2800.0H1231.0V2902.2H1244.1V3159.0H1261.4V2800.0H1268.8V2902.2H1274.8V3159.0H1279.0V2800.0H1290.7V3159.0H1295.6V2800.0H1313.6V3159.0H1328.4V2902.2H1339.4V3159.0H1362.0V2902.2H1370.8V2724.8H1381.8V2800.0H1386.4V3159.0H1390.2V2800.0H1402.9V2902.2H1410.7V3159.0H1414.9V2724.8H1422.0V2561.3H1431.2V2800.0H1434.0V2902.2H1437.9V2800.0H1449.0V3159.0H1451.9V2800.0H1467.1V3159.0H1510.8V2902.2H1518.3V3159.0H1571.9V2902.2H1593.5V3159.0H1623.1V2998.7H1639.3V3159.0H1646.0V2998.7H1654.5V3159.0H1659.1V2998.7H1668.6V3159.0H1672.5V2998.7H1682.8V3159.0H1687.3V2864.0H1701.1V2998.7H1706.0V2864.0H1726.5V3159.0H1737.8V2998.7H1748.8V3159.0H1819.0V2864.0H1835.3V2998.7H1840.2V2864.0H1850.5V2998.7H1858.6V2864.0H1869.5V2998.7H1873.0V3159.0H1882.6V2864.0H1895.3V3159.0H1908.3V2998.7H1935.9V3159.0H1940.8V2998.7H1963.9V3159.0H1975.2V2998.7H1985.8V3159.0H1987.9V2998.7H1997.8V3159.0H2002.7V2864.0H2011.8V3159.0H2015.9V2864.0H2029.7V2998.7H2041.7V3159.0H2047.0V2724.8H2060.5V2998.7H2065.8V2402.6H2068.6V2296.1H2075.6V2368.9H2088.4V2998.7H2096.4V3159.0H2097.7V2998.7H2104.4V3159.0H2115.7V2998.7H2143.5V3159.0H2155.8" fill="none" stroke="#d6352e" stroke-width="3.9" stroke-linejoin="miter"/></g>
<path d="M363.0 34.8V1564.8M2150.75 34.8V1564.8M363.0 66.8H2150.75M363.0 1532.8H2150.75M434.51 66.8v-17.5M434.51 1532.8v17.5M506.02 66.8v-17.5M506.02 1532.8v17.5M577.53 66.8v-17.5M577.53 1532.8v17.5M649.04 66.8v-17.5M649.04 1532.8v17.5M720.55 66.8v-32M720.55 1532.8v32M792.06 66.8v-17.5M792.06 1532.8v17.5M863.57 66.8v-17.5M863.57 1532.8v17.5M935.08 66.8v-17.5M935.08 1532.8v17.5M1006.59 66.8v-17.5M1006.59 1532.8v17.5M1078.10 66.8v-32M1078.10 1532.8v32M1149.61 66.8v-17.5M1149.61 1532.8v17.5M1221.12 66.8v-17.5M1221.12 1532.8v17.5M1292.63 66.8v-17.5M1292.63 1532.8v17.5M1364.14 66.8v-17.5M1364.14 1532.8v17.5M1435.65 66.8v-32M1435.65 1532.8v32M1507.16 66.8v-17.5M1507.16 1532.8v17.5M1578.67 66.8v-17.5M1578.67 1532.8v17.5M1650.18 66.8v-17.5M1650.18 1532.8v17.5M1721.69 66.8v-17.5M1721.69 1532.8v17.5M1793.20 66.8v-32M1793.20 1532.8v32M1864.71 66.8v-17.5M1864.71 1532.8v17.5M1936.22 66.8v-17.5M1936.22 1532.8v17.5M2007.73 66.8v-17.5M2007.73 1532.8v17.5M2079.24 66.8v-17.5M2079.24 1532.8v17.5M363.0 1188.0h32M2150.75 1188.0h-32M363.0 528.0h32M2150.75 528.0h-32" fill="none" stroke="#2e3192" stroke-width="5.8" stroke-linecap="butt"/>
<path d="M368.0 1597.6V3177.0M2155.75 1597.6V3177.0M368.0 1629.6H2155.75M368.0 3145.0H2155.75M439.51 1629.6v-17.5M439.51 3145.0v17.5M511.02 1629.6v-17.5M511.02 3145.0v17.5M582.53 1629.6v-17.5M582.53 3145.0v17.5M654.04 1629.6v-17.5M654.04 3145.0v17.5M725.55 1629.6v-32M725.55 3145.0v32M797.06 1629.6v-17.5M797.06 3145.0v17.5M868.57 1629.6v-17.5M868.57 3145.0v17.5M940.08 1629.6v-17.5M940.08 3145.0v17.5M1011.59 1629.6v-17.5M1011.59 3145.0v17.5M1083.10 1629.6v-32M1083.10 3145.0v32M1154.61 1629.6v-17.5M1154.61 3145.0v17.5M1226.12 1629.6v-17.5M1226.12 3145.0v17.5M1297.63 1629.6v-17.5M1297.63 3145.0v17.5M1369.14 1629.6v-17.5M1369.14 3145.0v17.5M1440.65 1629.6v-32M1440.65 3145.0v32M1512.16 1629.6v-17.5M1512.16 3145.0v17.5M1583.67 1629.6v-17.5M1583.67 3145.0v17.5M1655.18 1629.6v-17.5M1655.18 3145.0v17.5M1726.69 1629.6v-17.5M1726.69 3145.0v17.5M1798.20 1629.6v-32M1798.20 3145.0v32M1869.71 1629.6v-17.5M1869.71 3145.0v17.5M1941.22 1629.6v-17.5M1941.22 3145.0v17.5M2012.73 1629.6v-17.5M2012.73 3145.0v17.5M2084.24 1629.6v-17.5M2084.24 3145.0v17.5M368.0 2800.0h32M2155.75 2800.0h-32M368.0 2140.0h32M2155.75 2140.0h-32" fill="none" stroke="#2e3192" stroke-width="5.8" stroke-linecap="butt"/>
<g font-family='"Liberation Sans", Arial, Helvetica, sans-serif' fill="#231f20">
<text x="390" y="237" font-size="100" text-anchor="start">a</text>
<text x="992.3" y="185.3" font-size="99.5" text-anchor="start">Ni</text>
<text x="992" y="278.7" font-size="79.3" text-anchor="start">Ion beam energy 20 MeV</text>
<text x="991.5" y="374" font-size="79.6" text-anchor="start">2.5 ns delay</text>
<text x="734.5" y="401" font-size="82" text-anchor="start">XV</text>
<text x="1836" y="566" font-size="81.5" text-anchor="start">XVII</text>
<text x="318" y="544" font-size="80" text-anchor="end">100</text>
<text x="318" y="1202.8" font-size="80" text-anchor="end">10</text>
<text x="105" y="947" font-size="90" text-anchor="start" transform="rotate(-90 105 947)">Counts (log)</text>
<text x="422" y="1796" font-size="100" text-anchor="start">b</text>
<text x="817.5" y="1713.6" font-size="82" text-anchor="start">XVI</text>
<text x="817.5" y="1807.9" font-size="82" text-anchor="start">XV</text>
<text x="1621" y="1752.2" font-size="100" text-anchor="start">Ni</text>
<text x="1625" y="1846.8" font-size="78.9" text-anchor="start">12.5 ns delay</text>
<text x="1991" y="2045.4" font-size="82" text-anchor="start">XVI</text>
<text x="1838" y="2295" font-size="81.5" text-anchor="start">XVII</text>
<text x="323" y="2156.5" font-size="80" text-anchor="end">100</text>
<text x="323" y="2815.7" font-size="80" text-anchor="end">10</text>
<text x="110.3" y="2559.6" font-size="90" text-anchor="start" transform="rotate(-90 110.3 2559.6)">Counts (log)</text>
<text x="369.5" y="3250" font-size="80" text-anchor="middle">15</text>
<text x="725.05" y="3250" font-size="80" text-anchor="middle">20</text>
<text x="1082.6" y="3250" font-size="80" text-anchor="middle">25</text>
<text x="1440.15" y="3250" font-size="80" text-anchor="middle">30</text>
<text x="1797.7" y="3250" font-size="80" text-anchor="middle">35</text>
<text x="2155.25" y="3250" font-size="80" text-anchor="middle">40</text>
<text x="1263.5" y="3356.3" font-size="90" text-anchor="middle">Wavelength (nm)</text>
</g>
<path d="M1933.3 2124.6V2074.5H2147.4M2053.2 2069.4V2119.5M2076.7 2069.4V2119.5" fill="none" stroke="#231f20" stroke-width="4.3"/>
</svg>
</body></html>
